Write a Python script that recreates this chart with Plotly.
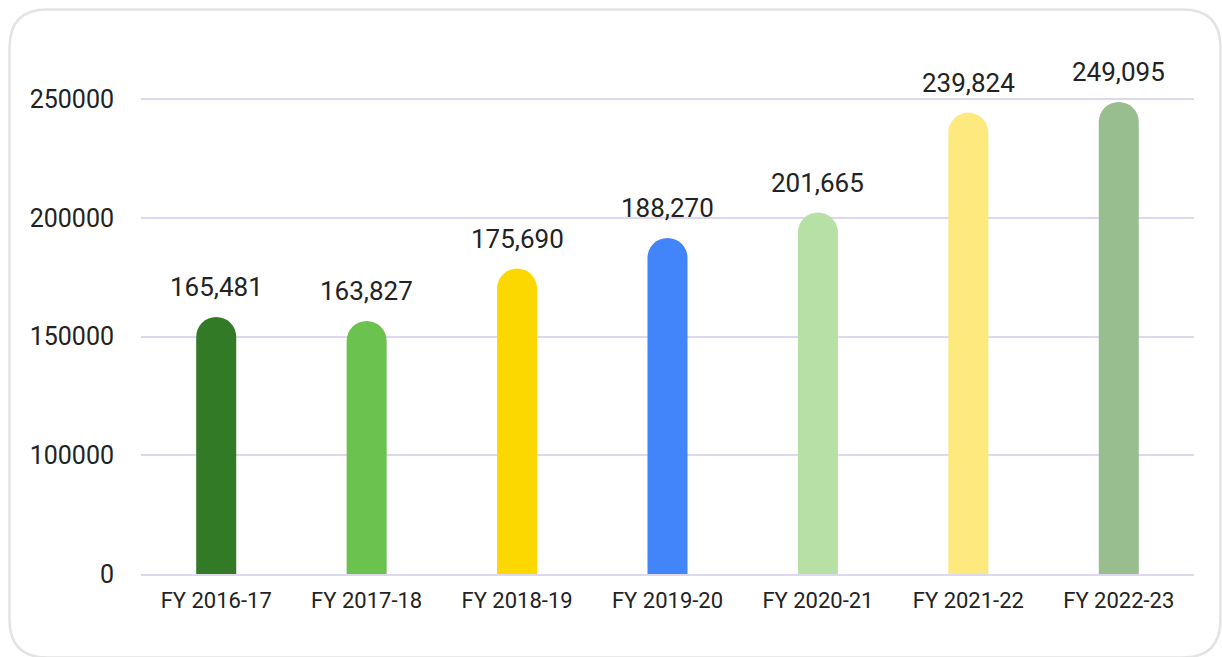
import plotly.graph_objects as go

# ---- data ----
categories = ["FY 2016-17", "FY 2017-18", "FY 2018-19", "FY 2019-20",
              "FY 2020-21", "FY 2021-22", "FY 2022-23"]
label_values = [165481, 163827, 175690, 188270, 201665, 239824, 249095]
# bar heights as drawn in the picture (on the chart's own axis scale)
bar_heights = [158300, 156600, 178700, 191600, 202300, 244400, 248900]
bar_colors = ["#337a26", "#6cc24f", "#fdd800", "#4284fa",
              "#b7e0a5", "#fde97d", "#98be8f"]
tick_values = [50000, 100000, 150000, 200000, 250000]
tick_labels = ["0", "100000", "150000", "200000", "250000"]

W, H = 1222, 657
ML, MR, MT, MB = 141, 28, 40, 83
PW, PH = W - ML - MR, H - MT - MB

fig = go.Figure()
fig.add_trace(go.Bar(
    x=categories, y=bar_heights,
    marker=dict(color=bar_colors, cornerradius=20, line=dict(width=0)),
    width=0.266,
    hoverinfo="skip",
))

for c, h, v in zip(categories, bar_heights, label_values):
    fig.add_annotation(x=c, y=h, text=f"{v:,}", showarrow=False,
                       yanchor="middle", yshift=30,
                       font=dict(family="Roboto", size=26, color="#222222"))

# rounded card border (decoration)
def px_to_paper(px, py):
    return (px - ML) / PW, (H - MB - py) / PH

x0, y0, x1, y1, r = 9.5, 9.5, 1220.5, 657.5, 38
pts = [
    ("M", (x0 + r, y0)), ("L", (x1 - r, y0)), ("Q", (x1, y0), (x1, y0 + r)),
    ("L", (x1, y1 - r)), ("Q", (x1, y1), (x1 - r, y1)),
    ("L", (x0 + r, y1)), ("Q", (x0, y1), (x0, y1 - r)),
    ("L", (x0, y0 + r)), ("Q", (x0, y0), (x0 + r, y0)),
]
path = ""
for cmd, *ps in pts:
    coords = " ".join("%.6f,%.6f" % px_to_paper(*p) for p in ps)
    path += f"{cmd}{coords} "
path += "Z"
fig.add_shape(type="path", path=path, xref="paper", yref="paper",
              line=dict(color="#e3e3e3", width=2.5), fillcolor="rgba(0,0,0,0)",
              layer="below")

fig.update_layout(
    width=W, height=H,
    margin=dict(l=ML, r=MR, t=MT, b=MB, pad=0),
    paper_bgcolor="white", plot_bgcolor="white",
    showlegend=False,
    font=dict(family="Roboto", color="#222222"),
    bargap=0.734,
)
fig.update_xaxes(
    showgrid=False, showline=True, linecolor="#ddd8ee", linewidth=1.5,
    ticks="", tickfont=dict(family="Roboto", size=22, color="#222222"),
    ticklabelstandoff=6, fixedrange=True,
)
fig.update_yaxes(
    range=[50000, 275000], tickvals=tick_values, ticktext=tick_labels,
    showgrid=True, gridcolor="#ddd8ee", gridwidth=1.5, zeroline=False,
    showline=False, ticks="",
    tickfont=dict(family="Roboto", size=25, color="#222222"),
    ticklabelstandoff=26, fixedrange=True,
)

fig.write_html(
    "out.html",
    config={"displayModeBar": False},
    post_script="document.body.style.margin='0';document.body.style.overflow='hidden';",
)
